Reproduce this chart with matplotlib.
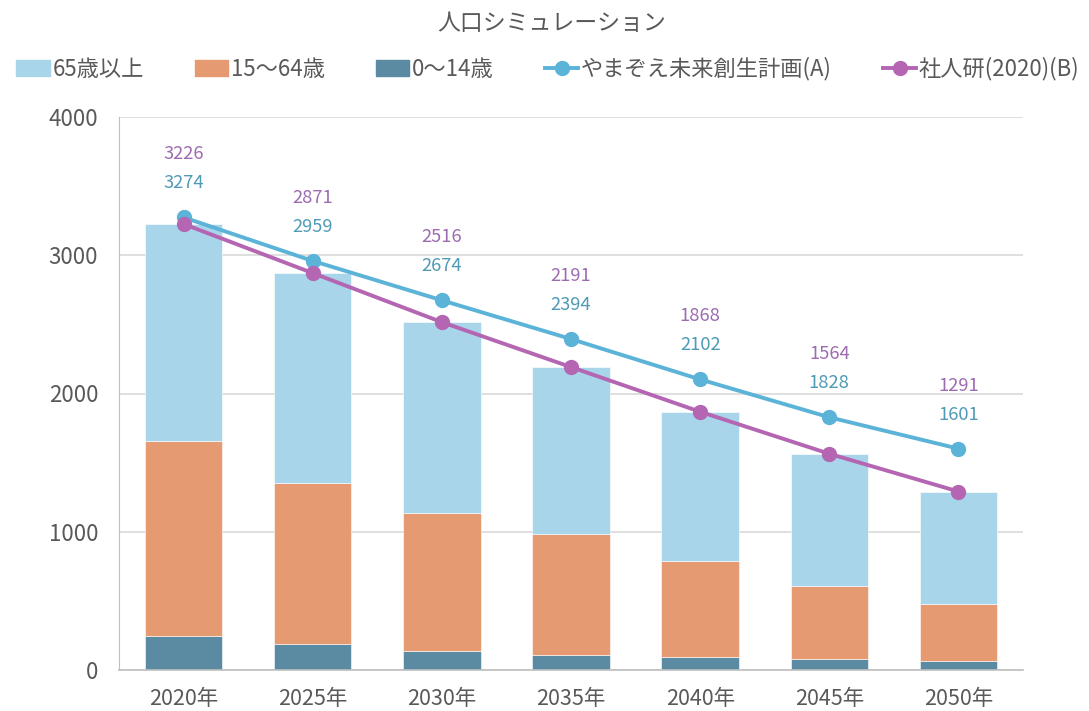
import matplotlib
matplotlib.use("Agg")
import matplotlib.pyplot as plt
from matplotlib.patches import Patch
from matplotlib.lines import Line2D
import numpy as np

plt.rcParams['font.family'] = ['Noto Sans CJK JP', 'DejaVu Sans']

years = ["2020年", "2025年", "2030年", "2035年", "2040年", "2045年", "2050年"]
age_0_14 = [249, 191, 140, 111, 94, 77, 63]
age_15_64 = [1409, 1165, 998, 872, 695, 533, 411]
age_65_plus = [1568, 1515, 1378, 1208, 1079, 954, 817]
plan_a = [3274, 2959, 2674, 2394, 2102, 1828, 1601]
ipss_b = [3226, 2871, 2516, 2191, 1868, 1564, 1291]

TEXT = "#595959"
C_OLD = "#A8D5EA"
C_WORK = "#E69A72"
C_YOUNG = "#5A8BA3"
C_A = "#5BB3D8"
C_B = "#B466B2"
C_A_LBL = "#4F9AB5"
C_B_LBL = "#9D6BB0"

fig = plt.figure(figsize=(10.89, 7.11), dpi=100)
ax = fig.add_axes([119 / 1089, 41 / 711, 904 / 1089, 553 / 711])

x = np.arange(len(years))
w = 0.6
ax.bar(x, age_0_14, w, color=C_YOUNG, edgecolor="white", linewidth=0.4, zorder=2)
ax.bar(x, age_15_64, w, bottom=age_0_14, color=C_WORK, edgecolor="white", linewidth=0.4, zorder=2)
bottom2 = np.array(age_0_14) + np.array(age_15_64)
ax.bar(x, age_65_plus, w, bottom=bottom2, color=C_OLD, edgecolor="white", linewidth=0.4, zorder=2)

ax.plot(x, plan_a, color=C_A, lw=2.8, marker="o", ms=10, zorder=4)
ax.plot(x, ipss_b, color=C_B, lw=2.8, marker="o", ms=10, zorder=5)

# labels sit above the A line, B label stacked on top of the A label
for xi, a, b in zip(x, plan_a, ipss_b):
    ax.annotate(str(a), (xi, a), xytext=(0, 34), textcoords="offset pixels",
                ha="center", va="center", fontsize=13.2, color=C_A_LBL)
    ax.annotate(str(b), (xi, a), xytext=(0, 63), textcoords="offset pixels",
                ha="center", va="center", fontsize=13.2, color=C_B_LBL)

ax.set_xlim(-0.5, len(years) - 0.5)
ax.set_ylim(0, 4000)
ax.set_yticks([0, 1000, 2000, 3000, 4000])
ax.set_xticks(x)
ax.set_xticklabels(years)
ax.tick_params(axis="y", length=0, labelsize=16, colors=TEXT, pad=15)
ax.tick_params(axis="x", length=0, labelsize=15.5, colors=TEXT, pad=13)
ax.grid(axis="y", color="#D9D9D9", lw=1.2, zorder=0)
ax.set_axisbelow(True)
for s in ["top", "right"]:
    ax.spines[s].set_visible(False)
ax.spines["left"].set_color("#BFBFBF")
ax.spines["bottom"].set_color("#BFBFBF")
ax.spines["bottom"].set_linewidth(1.2)

fig.text(552 / 1089, 1 - 23 / 711, "人口シミュレーション", ha="center", va="center",
         fontsize=16.5, color=TEXT)

handles = [
    Patch(color=C_OLD, label="65歳以上"),
    Patch(color=C_WORK, label="15～64歳"),
    Patch(color=C_YOUNG, label="0～14歳"),
    Line2D([], [], color=C_A, lw=2.8, marker="o", ms=10, label="やまぞえ未来創生計画(A)"),
    Line2D([], [], color=C_B, lw=2.8, marker="o", ms=10, label="社人研(2020)(B)"),
]
leg = fig.legend(handles=handles, loc="center", bbox_to_anchor=(548 / 1089, 1 - 69 / 711),
                 ncol=5, frameon=False, fontsize=16, handlelength=1.5,
                 handletextpad=0.12, columnspacing=2.3, labelcolor=TEXT,
                 borderpad=0.1, borderaxespad=0)

fig.savefig("out.png", dpi=100)
